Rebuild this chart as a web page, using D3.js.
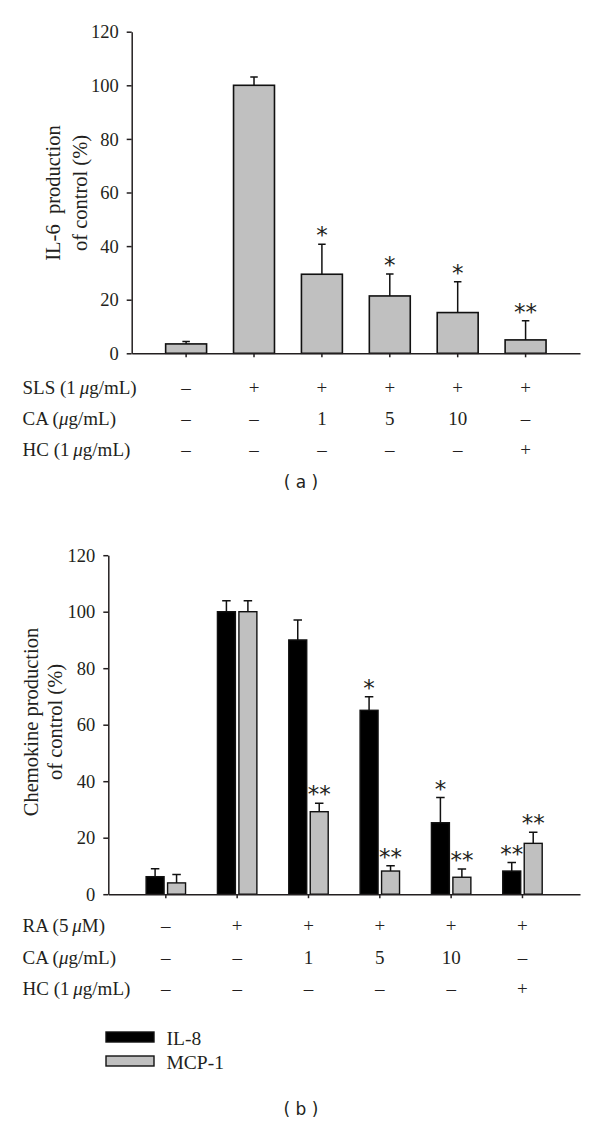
<!DOCTYPE html>
<html><head><meta charset="utf-8">
<script src="https://cdnjs.cloudflare.com/ajax/libs/d3/7.8.5/d3.min.js"></script>
<style>
html,body{margin:0;padding:0;background:#fff;}
svg{display:block;}
text{fill:#231f20;}
</style></head>
<body>
<script>
// ---------- data ----------
const conditions = ["ctrl","stim","ca1","ca5","ca10","hc"];
const ticksY = [0,20,40,60,80,100,120];

// panel (a)
const il6Values = [3.5, 100, 29.5, 21.4, 15.2, 5.0];
const il6Errors = [0.9, 3.1, 11.2, 8.2, 11.5, 7.1];
const il6Sig    = ["", "", "*", "*", "*", "**"];
const rowLabelsA = [["SLS (1\u2009","μ","g/mL)"],["CA (","μ","g/mL)"],["HC (1\u2009","μ","g/mL)"]];
const slsRow = ["–","+","+","+","+","+"];
const caRowA = ["–","–","1","5","10","–"];
const hcRowA = ["–","–","–","–","–","+"];

// panel (b)
const series = ["IL-8","MCP-1"];
const il8Values  = [6.2, 100, 90, 65.1, 25.3, 8.2];
const il8Errors  = [2.8, 3.9, 7.1, 4.8, 8.9, 3.0];
const il8Sig     = ["", "", "", "*", "*", "**"];
const mcp1Values = [4.0, 100, 29.2, 8.2, 6.0, 18.0];
const mcp1Errors = [3.0, 3.9, 3.0, 1.9, 2.9, 3.9];
const mcp1Sig    = ["", "", "**", "**", "**", "**"];
const rowLabelsB = [["RA (5\u2009","μ","M)"],["CA (","μ","g/mL)"],["HC (1\u2009","μ","g/mL)"]];
const raRow  = ["–","+","+","+","+","+"];
const caRowB = ["–","–","1","5","10","–"];
const hcRowB = ["–","–","–","–","–","+"];

// ---------- drawing ----------
const SERIF = "'Liberation Serif','Times New Roman',serif";
const svg = d3.select("body").append("svg").attr("width",600).attr("height",1127);
const GRAY = "#c0c0c0", AX = "#231f20";

function yAxis(g, y, x0){
  const a = g.append("g").attr("transform",`translate(${x0},0)`)
    .call(d3.axisLeft(y).tickValues(ticksY).tickSize(5).tickSizeOuter(0).tickPadding(8));
  a.selectAll("path,line").attr("stroke",AX).attr("stroke-width",1.5);
  a.selectAll("text").attr("font-family",SERIF).attr("font-size",18.5).attr("fill",AX).attr("dy","0.34em");
}
function xAxis(g, x, y0){
  const a = g.append("g").attr("transform",`translate(0,${y0})`)
    .call(d3.axisBottom(x).tickSize(4).tickSizeOuter(0).tickFormat(""));
  a.selectAll("path,line").attr("stroke",AX).attr("stroke-width",1.5);
}
function yTitle(g, lines, cx, cy, gap){
  const t = g.append("text").attr("transform",`translate(${cx},${cy}) rotate(-90)`)
    .attr("text-anchor","middle").attr("font-family",SERIF).attr("font-size",20.5)
    .style("white-space","pre");
  lines.forEach((l,i)=>t.append("tspan").attr("x",0).attr("y",i*gap).text(l));
}
function table(g, x, labels, rows, y0, gap){
  labels.forEach((lab,i)=>{
    const t = g.append("text").attr("x",22.5).attr("y",y0+i*gap)
      .attr("font-family",SERIF).attr("font-size",19);
    t.append("tspan").text(lab[0]);
    t.append("tspan").attr("font-style","italic").text(lab[1]);
    t.append("tspan").text(lab[2]);
  });
  rows.forEach((row,i)=>{
    g.selectAll(null).data(row).join("text")
      .attr("x",(d,j)=>x(conditions[j])+x.bandwidth()/2)
      .attr("y",y0+i*gap).attr("text-anchor","middle")
      .attr("font-family",SERIF).attr("font-size",19).text(d=>d);
  });
}
function errBars(g, data, cap){
  g.selectAll(null).data(data).join("path")
    .attr("d",d=>`M${d.cx},${d.top}V${d.cap}M${d.cx-cap/2},${d.cap}H${d.cx+cap/2}`)
    .attr("stroke","#111").attr("stroke-width",1.5).attr("fill","none");
  g.selectAll(null).data(data.filter(d=>d.sig)).join("text")
    .attr("x",d=>d.cx).attr("y",d=>d.cap-1).attr("text-anchor","middle")
    .attr("font-family","'DejaVu Sans',sans-serif").attr("font-size",23).attr("fill","#333")
    .text(d=>d.sig);
}

// ===== panel (a)
const gA = svg.append("g");
const yA = d3.scaleLinear([0,120],[353.3,31.7]);
const xA = d3.scaleBand(conditions,[131.7,580]).paddingInner(0.397).paddingOuter(0.5);
const dataA = conditions.map((c,i)=>({c, v:il6Values[i], e:il6Errors[i], sig:il6Sig[i]}));
gA.selectAll(null).data(dataA).join("rect")
  .attr("x",d=>xA(d.c)).attr("width",xA.bandwidth())
  .attr("y",d=>yA(d.v)).attr("height",d=>yA(0)-yA(d.v))
  .attr("fill",GRAY).attr("stroke","#111").attr("stroke-width",1.6);
errBars(gA, dataA.map(d=>({cx:xA(d.c)+xA.bandwidth()/2, top:yA(d.v), cap:yA(d.v+d.e), sig:d.sig})), 7.5);
yAxis(gA, yA, 131.7);
xAxis(gA, xA, 353.3);
yTitle(gA, ["IL-6  production","of control (%)"], 60, 193, 27);
table(gA, xA, rowLabelsA, [slsRow, caRowA, hcRowA], 394, 31);
gA.append("text").attr("x",301).attr("y",488).attr("text-anchor","middle")
  .attr("font-family","'DejaVu Sans',Verdana,sans-serif").attr("font-size",17).style("white-space","pre").text("( a )");

// ===== panel (b)
const gB = svg.append("g");
const yB = d3.scaleLinear([0,120],[894.2,555.2]);
const xB = d3.scaleBand(conditions,[108.3,580]).paddingInner(0.447).paddingOuter(0.53);
const xS = d3.scaleBand(series,[0,xB.bandwidth()]).paddingInner(0.163);
const vals = {"IL-8":[il8Values,il8Errors,il8Sig], "MCP-1":[mcp1Values,mcp1Errors,mcp1Sig]};
const colors = {"IL-8":"#000","MCP-1":GRAY};
const dataB = [];
conditions.forEach((c,i)=>series.forEach(s=>dataB.push({c,s,v:vals[s][0][i],e:vals[s][1][i],sig:vals[s][2][i]})));
gB.selectAll(null).data(dataB).join("rect")
  .attr("x",d=>xB(d.c)+xS(d.s)).attr("width",xS.bandwidth())
  .attr("y",d=>yB(d.v)).attr("height",d=>yB(0)-yB(d.v))
  .attr("fill",d=>colors[d.s]).attr("stroke","#111").attr("stroke-width",1.4);
errBars(gB, dataB.map(d=>({cx:xB(d.c)+xS(d.s)+xS.bandwidth()/2, top:yB(d.v), cap:yB(d.v+d.e), sig:d.sig})), 8.5);
yAxis(gB, yB, 108.3);
xAxis(gB, xB, 894.2);
yTitle(gB, ["Chemokine production","of control (%)"], 38, 722, 24);
table(gB, xB, rowLabelsB, [raRow, caRowB, hcRowB], 932, 31.5);

// legend
const lg = gB.append("g");
series.forEach((s,i)=>{
  lg.append("rect").attr("x",106).attr("y",1032+i*24).attr("width",48).attr("height",10)
    .attr("fill",colors[s]).attr("stroke","#111").attr("stroke-width",1.4);
  lg.append("text").attr("x",166.5).attr("y",1044.5+i*24).attr("font-family",SERIF)
    .attr("font-size",19.5).text(s);
});
gB.append("text").attr("x",301).attr("y",1115).attr("text-anchor","middle")
  .attr("font-family","'DejaVu Sans',Verdana,sans-serif").attr("font-size",17).style("white-space","pre").text("( b )");
</script>
</body></html>
